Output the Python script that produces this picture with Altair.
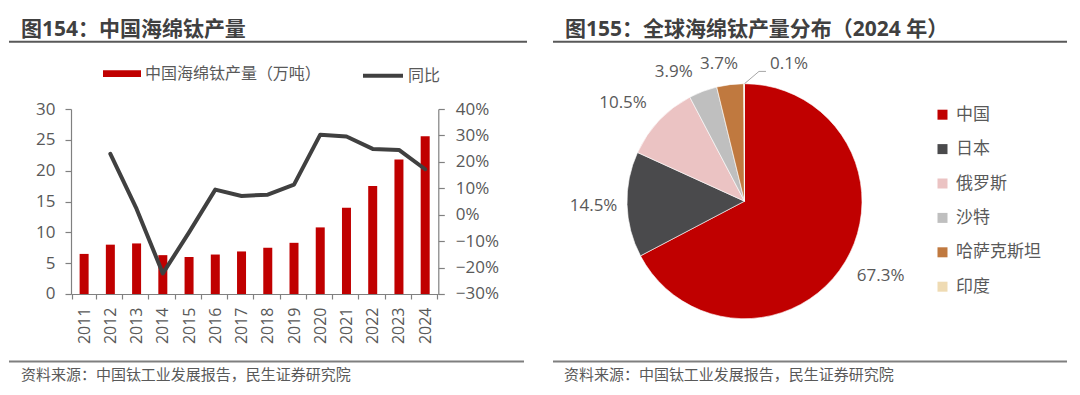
import math
import altair as alt
import pandas as pd

# ---------------- data ----------------
years = [str(y) for y in range(2011, 2025)]
production = [6.5, 8.0, 8.2, 6.3, 6.0, 6.4, 6.9, 7.5, 8.3, 10.8, 14.0, 17.5, 21.8, 25.6]
yoy = [None, 0.23, 0.022, -0.222, -0.067, 0.095, 0.071, 0.076, 0.114, 0.303, 0.296, 0.249, 0.245, 0.172]

bar_name = "中国海绵钛产量（万吨）"
line_name = "同比"

regions = ["中国", "日本", "俄罗斯", "沙特", "哈萨克斯坦", "印度"]
shares = [67.3, 14.5, 10.5, 3.9, 3.7, 0.1]
share_labels = ["67.3%", "14.5%", "10.5%", "3.9%", "3.7%", "0.1%"]
region_colors = ["#C00000", "#4A4A4C", "#EBC3C3", "#BFBFBF", "#C0793F", "#EFDBB3"]

left_title = "图154：中国海绵钛产量"
right_title = "图155：全球海绵钛产量分布（2024 年）"
source_text = "资料来源：中国钛工业发展报告，民生证券研究院"

# ---------------- layout helpers ----------------
FONT = "Open Sans, Noto Sans CJK SC"
OX, OY = 70, 108.3          # page position of plot origin
W, H = 367.3, 185
GRAY_TXT = "#595959"
AXIS_GRAY = "#808080"


def px(x):
    return x - OX


def py(y):
    return y - OY


one = pd.DataFrame({"k": [0]})

df = pd.DataFrame({"year": years, "prod": production, "yoy": yoy,
                   "s1": bar_name, "s2": line_name})

# invisible frame (defines chart extent)
bg = alt.Chart(one).mark_rect(fill="white", fillOpacity=0).encode(
    x=alt.value(px(8)), x2=alt.value(px(1070)),
    y=alt.value(py(8)), y2=alt.value(py(385)),
)

xenc = alt.X(
    "year:N", sort=years, scale=alt.Scale(domain=years),
    axis=alt.Axis(title=None, labelAngle=270, tickBand="extent", tickSize=5,
                  labelPadding=8, labelFontSize=16),
)

bars = alt.Chart(df).mark_bar(size=9).encode(
    x=xenc,
    y=alt.Y("prod:Q", scale=alt.Scale(domain=[0, 30], nice=False),
            axis=alt.Axis(title=None, values=[0, 5, 10, 15, 20, 25, 30], tickSize=6,
                          labelPadding=10, labelFontSize=17)),
    fill=alt.Fill("s1:N", scale=alt.Scale(domain=[bar_name], range=["#C00000"]),
                  legend=alt.Legend(orient="none", legendX=px(102), legendY=py(73) - 19,
                                    title=None, symbolType="M-1,-0.18L1,-0.18L1,0.18L-1,0.18Z",
                                    symbolSize=1444, symbolStrokeWidth=0, labelFontSize=16,
                                    labelOffset=4, labelColor=GRAY_TXT, padding=0,
                                    labelLimit=400)),
)

line = alt.Chart(df).mark_line(strokeWidth=4, strokeCap="round", strokeJoin="round").encode(
    x=alt.X("year:N", sort=years),
    y=alt.Y("yoy:Q", scale=alt.Scale(domain=[-0.3, 0.4], nice=False),
            axis=alt.Axis(title=None, orient="right", format=".0%",
                          values=[-0.3, -0.2, -0.1, 0, 0.1, 0.2, 0.3, 0.4],
                          tickSize=6, labelPadding=11, labelFontSize=17)),
    stroke=alt.Stroke("s2:N", scale=alt.Scale(domain=[line_name], range=["#404040"]),
                      legend=alt.Legend(orient="none", legendX=px(360), legendY=py(73) - 20,
                                        title=None, symbolType="M-1,0L1,0", symbolSize=1600,
                                        symbolStrokeWidth=4, labelFontSize=16, labelOffset=3,
                                        labelColor=GRAY_TXT, padding=0, labelLimit=400)),
)

# ---------------- pie ----------------
pie_df = pd.DataFrame({"region": regions, "share": shares, "label": share_labels,
                       "order": list(range(len(regions)))})
CX, CY, R = px(743.5), py(200.5), 117.5

pie_base = alt.Chart(pie_df).transform_window(
    end="sum(share)", sort=[alt.SortField("order")]
).transform_calculate(
    start="datum.end - datum.share", mid="datum.end - datum.share / 2"
)

theta_scale = alt.Scale(domain=[0, 100], range=[0, 2 * math.pi])

arcs = pie_base.mark_arc(radius=R, stroke="white", strokeWidth=0.6).encode(
    theta=alt.Theta("start:Q", scale=theta_scale),
    theta2="end:Q",
    color=alt.Color("region:N", scale=alt.Scale(domain=regions, range=region_colors),
                    legend=alt.Legend(orient="none", legendX=px(933), legendY=py(114) - 8.5,
                                      title=None, symbolType="square", symbolSize=100,
                                      symbolStrokeWidth=0, labelFontSize=17, rowPadding=16.4,
                                      labelOffset=5, labelColor=GRAY_TXT, padding=0,
                                      labelLimit=400)),
    x=alt.value(CX), y=alt.value(CY),
)

label_style = {
    "中国": dict(radius=152, dx=6, dy=-4, align="center"),
    "日本": dict(radius=152, dx=1, dy=1, align="center"),
    "俄罗斯": dict(radius=152, dx=-11, dy=6, align="center"),
    "沙特": dict(radius=135, dx=-23, dy=-3, align="center"),
    "哈萨克斯坦": dict(radius=135, dx=-9, dy=-3, align="center"),
    "印度": dict(radius=135, dx=26, dy=-2, align="left"),
}
label_layers = []
for name in regions:
    st = label_style[name]
    label_layers.append(
        pie_base.transform_filter(alt.datum.region == name).mark_text(
            radius=st["radius"], dx=st["dx"], dy=st["dy"], align=st["align"],
            baseline="middle", fontSize=17, color=GRAY_TXT, font=FONT,
        ).encode(theta=alt.Theta("mid:Q", scale=theta_scale), text="label:N",
                 x=alt.value(CX), y=alt.value(CY))
    )

leader1 = alt.Chart(one).mark_rule(color="#A6A6A6", strokeWidth=1).encode(
    x=alt.value(px(743.5)), y=alt.value(py(83)), x2=alt.value(px(758)), y2=alt.value(py(70.7)))
leader2 = alt.Chart(one).mark_rule(color="#A6A6A6", strokeWidth=1).encode(
    x=alt.value(px(758)), y=alt.value(py(70.7)), x2=alt.value(px(765)), y2=alt.value(py(70.7)))

# ---------------- titles, rules, source ----------------
def text_layer(txt, x, y, size, weight="normal", color=GRAY_TXT):
    return alt.Chart(one).mark_text(align="left", baseline="middle", fontSize=size,
                                    fontWeight=weight, color=color, font=FONT).encode(
        x=alt.value(px(x)), y=alt.value(py(y)), text=alt.value(txt))


def hrule(x1, x2, y, width, color):
    return alt.Chart(one).mark_rule(color=color, strokeWidth=width).encode(
        x=alt.value(px(x1)), x2=alt.value(px(x2)), y=alt.value(py(y)))


decor = [
    text_layer(left_title, 20, 29.5, 21, "bold", "#404040"),
    text_layer(right_title, 564, 29.5, 21, "bold", "#404040"),
    hrule(8, 526, 41, 2, "#595959"),
    hrule(552, 1066, 41, 2, "#595959"),
    hrule(8, 523, 360.7, 2, "#7F7F7F"),
    hrule(552, 1066, 360.7, 2, "#7F7F7F"),
    text_layer(source_text, 20, 374, 15),
    text_layer(source_text, 563, 374, 15),
]

chart = alt.layer(
    bg, bars, line, arcs, *label_layers, leader1, leader2, *decor
).resolve_scale(
    y="independent"
).properties(
    width=W, height=H, padding=0,
    autosize=alt.AutoSizeParams(type="pad"),
).configure_view(
    strokeWidth=0
).configure_axis(
    labelFont=FONT, labelColor=GRAY_TXT, domainColor=AXIS_GRAY, tickColor=AXIS_GRAY,
    grid=False, domainWidth=1.2, tickWidth=1.2, zindex=0,
).configure_legend(
    labelFont=FONT
).configure_text(
    font=FONT
)

chart.save("out.html", embed_options={"renderer": "svg", "actions": False})
